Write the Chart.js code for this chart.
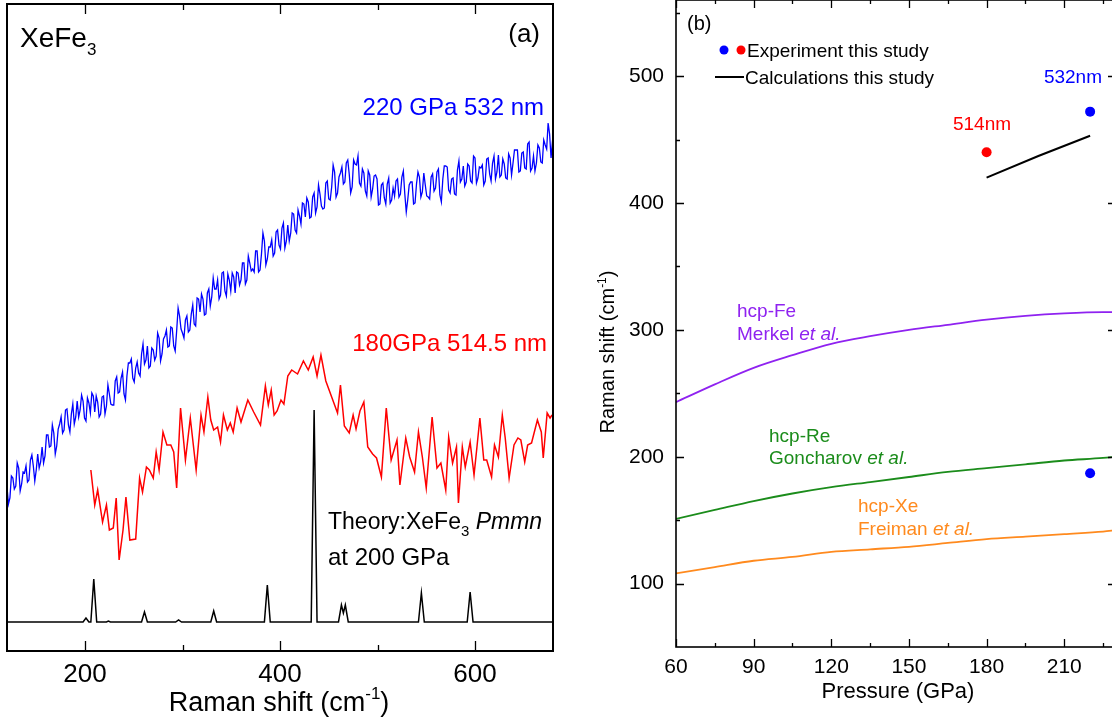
<!DOCTYPE html>
<html>
<head>
<meta charset="utf-8">
<script src="https://cdn.jsdelivr.net/npm/chart.js@4.4.1/dist/chart.umd.min.js"></script>
<style>
  html, body { margin: 0; padding: 0; background: #fff; overflow: hidden; width: 1112px; height: 721px; }
  #wrap-a { position: absolute; left: 0; top: 0; width: 560px; height: 721px; }
  #wrap-b { position: absolute; left: 560px; top: 0; width: 560px; height: 721px; }
</style>
</head>
<body>
<div id="wrap-a"><canvas id="spectra" width="560" height="721"></canvas></div>
<div id="wrap-b"><canvas id="shifts" width="560" height="721"></canvas></div>
<script>
// ---- panel (a): Raman spectra of XeFe3 (intensity in arbitrary counts) ----
const blueShift = [
  120, 121.5, 123, 124.5, 126, 127.5, 129, 130.5, 132, 133.5, 135, 136.5, 138, 139.5, 141, 142.5, 144, 145.5, 147, 148.5,
  150, 151.5, 153, 154.5, 156, 157.5, 159, 160.5, 162, 163.5, 165, 166.5, 168, 169.5, 171, 172.5, 174, 175.5, 177, 178.5,
  180, 181.5, 183, 184.5, 186, 187.5, 189, 190.5, 192, 193.5, 195, 196.5, 198, 199.5, 201, 202.5, 204, 205.5, 207, 208.5,
  210, 211.5, 213, 214.5, 216, 217.5, 219, 220.5, 222, 223.5, 225, 226.5, 228, 229.5, 231, 232.5, 234, 235.5, 237, 238.5,
  240, 241.5, 243, 244.5, 246, 247.5, 249, 250.5, 252, 253.5, 255, 256.5, 258, 259.5, 261, 262.5, 264, 265.5, 267, 268.5,
  270, 271.5, 273, 274.5, 276, 277.5, 279, 280.5, 282, 283.5, 285, 286.5, 288, 289.5, 291, 292.5, 294, 295.5, 297, 298.5,
  300, 301.5, 303, 304.5, 306, 307.5, 309, 310.5, 312, 313.5, 315, 316.5, 318, 319.5, 321, 322.5, 324, 325.5, 327, 328.5,
  330, 331.5, 333, 334.5, 336, 337.5, 339, 340.5, 342, 343.5, 345, 346.5, 348, 349.5, 351, 352.5, 354, 355.5, 357, 358.5,
  360, 361.5, 363, 364.5, 366, 367.5, 369, 370.5, 372, 373.5, 375, 376.5, 378, 379.5, 381, 382.5, 384, 385.5, 387, 388.5,
  390, 391.5, 393, 394.5, 396, 397.5, 399, 400.5, 402, 403.5, 405, 406.5, 408, 409.5, 411, 412.5, 414, 415.5, 417, 418.5,
  420, 421.5, 423, 424.5, 426, 427.5, 429, 430.5, 432, 433.5, 435, 436.5, 438, 439.5, 441, 442.5, 444, 445.5, 447, 448.5,
  450, 451.5, 453, 454.5, 456, 457.5, 459, 460.5, 462, 463.5, 465, 466.5, 468, 469.5, 471, 472.5, 474, 475.5, 477, 478.5,
  480, 481.5, 483, 484.5, 486, 487.5, 489, 490.5, 492, 493.5, 495, 496.5, 498, 499.5, 501, 502.5, 504, 505.5, 507, 508.5,
  510, 511.5, 513, 514.5, 516, 517.5, 519, 520.5, 522, 523.5, 525, 526.5, 528, 529.5, 531, 532.5, 534, 535.5, 537, 538.5,
  540, 541.5, 543, 544.5, 546, 547.5, 549, 550.5, 552, 553.5, 555, 556.5, 558, 559.5, 561, 562.5, 564, 565.5, 567, 568.5,
  570, 571.5, 573, 574.5, 576, 577.5, 579, 580.5, 582, 583.5, 585, 586.5, 588, 589.5, 591, 592.5, 594, 595.5, 597, 598.5,
  600, 601.5, 603, 604.5, 606, 607.5, 609, 610.5, 612, 613.5, 615, 616.5, 618, 619.5, 621, 622.5, 624, 625.5, 627, 628.5,
  630, 631.5, 633, 634.5, 636, 637.5, 639, 640.5, 642, 643.5, 645, 646.5, 648, 649.5, 651, 652.5, 654, 655.5, 657, 658.5,
  660, 661.5, 663, 664.5, 666, 667.5, 669, 670.5, 672, 673.5, 675, 676.5, 678, 679.5, 681
];
const blueCounts = [
  164, 147, 153, 175, 173, 162, 165, 188, 183, 160, 167, 179, 178, 185, 169, 171, 191, 196, 185, 170,
  181, 197, 183, 189, 204, 188, 195, 216, 216, 204, 205, 226, 218, 197, 205, 222, 227, 234, 218, 221,
  241, 242, 226, 219, 237, 247, 227, 234, 250, 234, 241, 256, 250, 233, 230, 253, 248, 238, 258, 255,
  239, 255, 249, 234, 237, 254, 255, 237, 245, 266, 257, 247, 246, 246, 270, 274, 258, 259, 273, 279,
  257, 251, 275, 288, 288, 292, 273, 269, 283, 289, 278, 275, 297, 307, 287, 291, 305, 283, 285, 303,
  301, 291, 295, 318, 313, 290, 297, 312, 315, 321, 304, 305, 324, 323, 305, 300, 320, 343, 335, 322,
  318, 313, 331, 335, 319, 321, 337, 346, 327, 325, 353, 352, 339, 357, 352, 336, 337, 358, 362, 345,
  354, 373, 362, 362, 371, 352, 356, 378, 379, 360, 355, 377, 371, 360, 378, 374, 358, 379, 378, 366,
  371, 388, 388, 367, 371, 395, 388, 380, 382, 379, 400, 400, 379, 381, 397, 418, 410, 386, 392, 404,
  404, 411, 395, 398, 419, 421, 406, 402, 423, 428, 403, 410, 426, 410, 418, 438, 437, 421, 418, 441,
  435, 427, 448, 447, 434, 453, 449, 433, 434, 454, 458, 438, 444, 466, 457, 445, 442, 443, 468, 470,
  452, 451, 464, 486, 479, 454, 458, 474, 478, 484, 467, 469, 488, 491, 477, 458, 464, 491, 487, 486,
  495, 468, 465, 482, 478, 460, 455, 480, 476, 454, 462, 475, 476, 472, 446, 447, 466, 468, 453, 447,
  467, 473, 448, 451, 463, 455, 470, 472, 454, 457, 474, 480, 457, 439, 451, 466, 469, 469, 447, 448,
  467, 479, 474, 454, 459, 478, 466, 455, 454, 452, 474, 477, 460, 463, 479, 482, 456, 449, 472, 485,
  485, 484, 461, 458, 472, 473, 457, 456, 481, 490, 469, 472, 485, 465, 469, 487, 485, 470, 468, 495,
  493, 468, 473, 484, 483, 486, 466, 470, 492, 493, 477, 470, 488, 495, 472, 479, 496, 474, 476, 492,
  487, 473, 472, 497, 493, 476, 488, 501, 501, 501, 479, 480, 498, 499, 483, 482, 507, 509, 480, 483,
  495, 480, 488, 506, 503, 489, 488, 511, 506, 502, 528, 517, 493, 510, 505
];

const redShift = [
  206, 210, 213, 218, 222, 225, 229, 232, 235, 239,
  242, 246, 252, 256, 259, 263, 266, 270, 273, 276,
  280, 284, 288, 291, 294, 298, 303, 308, 314, 319,
  322, 326, 329, 332, 336, 339, 342, 346, 349, 352,
  356, 360, 367, 373, 380, 385, 388, 391, 394, 397,
  401, 404, 408, 412, 418, 424, 429, 434, 438, 442,
  447, 453, 459, 462, 466, 471, 475, 478, 482, 486,
  490, 495, 499, 504, 509, 514, 520, 523, 529, 533,
  538, 542, 546, 550, 556, 561, 565, 570, 573, 577,
  581, 583, 587, 590, 595, 599, 602, 605, 609, 612,
  617, 620, 624, 628, 631, 635, 640, 644, 647, 651,
  654, 658, 664, 668, 670, 674, 677, 679
];
const redCounts = [
  181, 146, 161, 129, 146, 121, 123, 153, 91, 121,
  154, 111, 112, 173, 159, 184, 181, 173, 199, 181,
  219, 206, 206, 199, 163, 243, 191, 233, 181, 236,
  219, 254, 231, 221, 224, 209, 236, 221, 228, 219,
  243, 229, 251, 239, 226, 265, 246, 261, 236, 240,
  251, 247, 275, 281, 277, 290, 281, 294, 275, 296,
  270, 254, 238, 266, 225, 218, 236, 222, 240, 249,
  204, 197, 193, 174, 243, 191, 211, 166, 213, 194,
  179, 219, 194, 163, 234, 183, 188, 161, 214, 188,
  204, 148, 204, 184, 209, 176, 204, 233, 191, 191,
  174, 206, 194, 236, 213, 173, 206, 213, 211, 189,
  206, 208, 231, 219, 193, 238, 233, 236
];

const theoryShift = [120, 198, 201, 204, 206, 209, 212, 222, 224, 226, 258, 261, 264, 293, 296, 299,
  329, 332, 335, 384, 387, 390, 432, 435, 438, 460, 463, 465, 467, 470, 542, 545, 548, 592, 595, 598, 680];
const theoryCounts = [29, 29, 33, 29, 29, 72, 29, 29, 30, 29, 29, 39, 29, 29, 31, 29,
  29, 40, 29, 29, 66, 29, 29, 241, 29, 29, 46, 38, 46, 29, 29, 58, 29, 29, 59, 29, 29];

const shiftTicks = [200, 400, 600];
const shiftMinor = [300, 500];

// ---- panel (b): Raman shift vs pressure ----
const refPressure = [60, 75, 90, 105, 120, 135, 150, 165, 180, 195, 210, 225, 230];
const hcpFe = [243, 257, 270, 280, 289, 295, 300, 304, 308, 311, 313, 314, 314];
const hcpRe = [151, 158, 165, 171, 176, 180, 184, 188, 191, 194, 197, 199, 200];
const hcpXe = [108, 113, 118, 121, 125, 127, 129, 132, 135, 137, 139, 141, 142];
const calcPressure = [180, 200, 220];
const calcShift = [420, 437, 453];
const exp532Pressure = [220, 220];
const exp532Shift = [472, 187];
const exp514Pressure = [180];
const exp514Shift = [440];

const pressureTicks = [60, 90, 120, 150, 180, 210];
const pressureMinor = [75, 105, 135, 165, 195, 225];
const ramanTicks = [100, 200, 300, 400, 500];
const ramanMinor = [150, 250, 350, 450, 550];

const FAMILY = '"Liberation Sans", Arial, sans-serif';
const FE = '#8f22f0', RE = '#1b8c1b', XE = '#ff8a1e';

Chart.defaults.font.family = FAMILY;
Chart.defaults.color = '#000';

const pts = (xs, ys) => xs.map((x, i) => ({ x, y: ys[i] }));
const noPad = s => { s.paddingTop = 0; s.paddingBottom = 0; s.paddingLeft = 0; s.paddingRight = 0; };

// text with italic / sub / sup pieces
function rich(ctx, parts, x, y, size, color, align) {
  const fontOf = k => (k === 'i' ? 'italic ' : '') +
    Math.round(k === 'sub' || k === 'sup' ? size * 0.62 : size) + 'px ' + FAMILY;
  let total = 0;
  const widths = parts.map(([t, k]) => {
    ctx.font = fontOf(k);
    const w = ctx.measureText(t).width;
    total += w;
    return w;
  });
  let cx = align === 'center' ? x - total / 2 : align === 'right' ? x - total : x;
  const base = y + size * 0.36;
  ctx.fillStyle = color;
  ctx.textAlign = 'left';
  ctx.textBaseline = 'alphabetic';
  parts.forEach(([t, k], i) => {
    ctx.font = fontOf(k);
    const dy = k === 'sub' ? size * 0.3 : k === 'sup' ? -size * 0.42 : 0;
    ctx.fillText(t, cx, base + dy);
    cx += widths[i];
  });
}

// box plus inward ticks, placed through the chart's own scales
function frame(chart, o) {
  const { ctx, chartArea: a, scales: { x, y } } = chart;
  ctx.save();
  ctx.strokeStyle = '#000';
  ctx.lineWidth = o.box;
  ctx.strokeRect(a.left, a.top, a.right - a.left, a.bottom - a.top);
  ctx.lineWidth = 1.3;
  ctx.beginPath();
  const xt = (vals, len) => vals.forEach(v => {
    const px = Math.round(x.getPixelForValue(v)) + 0.5;
    ctx.moveTo(px, a.bottom); ctx.lineTo(px, a.bottom - len);
    ctx.moveTo(px, a.top); ctx.lineTo(px, a.top + len);
  });
  const yt = (vals, len) => vals.forEach(v => {
    const py = Math.round(y.getPixelForValue(v)) + 0.5;
    ctx.moveTo(a.left, py); ctx.lineTo(a.left + len, py);
    ctx.moveTo(a.right, py); ctx.lineTo(a.right - len, py);
  });
  xt(o.xMajor, o.major);
  xt(o.xMinor, o.minor);
  if (o.yMajor) { yt(o.yMajor, o.major); yt(o.yMinor, o.minor); }
  ctx.stroke();
  ctx.restore();
}

new Chart(document.getElementById('spectra'), {
  type: 'line',
  data: {
    datasets: [
      { data: pts(blueShift, blueCounts), borderColor: '#0000ff', borderWidth: 1.3, pointRadius: 0, tension: 0 },
      { data: pts(redShift, redCounts), borderColor: '#ff0000', borderWidth: 1.5, pointRadius: 0, tension: 0 },
      { data: pts(theoryShift, theoryCounts), borderColor: '#000', borderWidth: 1.5, pointRadius: 0, tension: 0 }
    ]
  },
  options: {
    responsive: false,
    animation: false,
    layout: { autoPadding: false, padding: { left: 7, right: 7, top: 4, bottom: 0 } },
    plugins: { legend: { display: false }, tooltip: { enabled: false } },
    scales: {
      x: {
        type: 'linear', min: 120, max: 680,
        grid: { display: false, drawTicks: false },
        border: { display: false },
        afterBuildTicks: s => { s.ticks = shiftTicks.map(v => ({ value: v })); },
        afterFit: s => { s.height = 70; noPad(s); },
        ticks: { font: { size: 26 }, padding: 8, maxRotation: 0 }
      },
      y: { type: 'linear', min: 0, max: 647, display: false }
    }
  },
  plugins: [{
    id: 'decorA',
    afterDraw(chart) {
      frame(chart, { box: 2, major: 10, minor: 6, xMajor: shiftTicks, xMinor: shiftMinor });
      const ctx = chart.ctx;
      rich(ctx, [['XeFe', ''], ['3', 'sub']], 20, 37, 28, '#000', 'left');
      rich(ctx, [['(a)', '']], 540, 33, 26, '#000', 'right');
      rich(ctx, [['220 GPa 532 nm', '']], 544, 107, 23.5, '#0000ff', 'right');
      rich(ctx, [['180GPa 514.5 nm', '']], 547, 343, 23.5, '#ff0000', 'right');
      rich(ctx, [['Theory:XeFe', ''], ['3', 'sub'], [' ', ''], ['Pmmn', 'i']], 328, 521, 23.4, '#000', 'left');
      rich(ctx, [['at 200 GPa', '']], 328, 557, 23.5, '#000', 'left');
      rich(ctx, [['Raman shift (cm', ''], ['-1', 'sup'], [')', '']], 279, 701, 27, '#000', 'center');
    }
  }]
});

new Chart(document.getElementById('shifts'), {
  type: 'line',
  data: {
    datasets: [
      { data: pts(refPressure, hcpFe), borderColor: FE, borderWidth: 1.8, pointRadius: 0, cubicInterpolationMode: 'monotone' },
      { data: pts(refPressure, hcpRe), borderColor: RE, borderWidth: 1.8, pointRadius: 0, cubicInterpolationMode: 'monotone' },
      { data: pts(refPressure, hcpXe), borderColor: XE, borderWidth: 1.8, pointRadius: 0, cubicInterpolationMode: 'monotone' },
      { data: pts(calcPressure, calcShift), borderColor: '#000', borderWidth: 2, pointRadius: 0 },
      { data: pts(exp532Pressure, exp532Shift), showLine: false, pointRadius: 5, borderWidth: 0,
        backgroundColor: '#0000ff', borderColor: '#0000ff' },
      { data: pts(exp514Pressure, exp514Shift), showLine: false, pointRadius: 5, borderWidth: 0,
        backgroundColor: '#ff0000', borderColor: '#ff0000' }
    ]
  },
  options: {
    responsive: false,
    animation: false,
    layout: { autoPadding: false, padding: { left: 0, right: 4, top: 0, bottom: 0 } },
    plugins: { legend: { display: false }, tooltip: { enabled: false } },
    scales: {
      x: {
        type: 'linear', min: 60, max: 230,
        grid: { display: false, drawTicks: false },
        border: { display: false },
        afterBuildTicks: s => { s.ticks = pressureTicks.map(v => ({ value: v })); },
        afterFit: s => { s.height = 74; noPad(s); },
        ticks: { font: { size: 21 }, padding: 8, maxRotation: 0 }
      },
      y: {
        type: 'linear', min: 50, max: 560,
        grid: { display: false, drawTicks: false },
        border: { display: false },
        afterBuildTicks: s => { s.ticks = ramanTicks.map(v => ({ value: v })); },
        afterFit: s => { s.width = 116; noPad(s); },
        ticks: { font: { size: 21 }, padding: 12 }
      }
    }
  },
  plugins: [{
    id: 'decorB',
    afterDraw(chart) {
      frame(chart, { box: 1.6, major: 8, minor: 4, xMajor: pressureTicks, xMinor: pressureMinor,
        yMajor: ramanTicks, yMinor: ramanMinor });
      const ctx = chart.ctx;
      rich(ctx, [['(b)', '']], 127, 23, 20, '#000', 'left');
      // legend
      ctx.save();
      ctx.fillStyle = '#0000ff';
      ctx.beginPath(); ctx.arc(164, 50, 4.5, 0, Math.PI * 2); ctx.fill();
      ctx.fillStyle = '#ff0000';
      ctx.beginPath(); ctx.arc(181, 50, 4.5, 0, Math.PI * 2); ctx.fill();
      ctx.strokeStyle = '#000'; ctx.lineWidth = 2;
      ctx.beginPath(); ctx.moveTo(155, 77); ctx.lineTo(184, 77); ctx.stroke();
      ctx.restore();
      rich(ctx, [['Experiment this study', '']], 187, 50, 19, '#000', 'left');
      rich(ctx, [['Calculations this study', '']], 185, 77, 19, '#000', 'left');
      rich(ctx, [['514nm', '']], 422, 123, 19, '#ff0000', 'center');
      rich(ctx, [['532nm', '']], 542, 76, 19, '#0000ff', 'right');
      rich(ctx, [['hcp-Fe', '']], 177, 310, 19, FE, 'left');
      rich(ctx, [['Merkel ', ''], ['et al.', 'i']], 177, 333, 19, FE, 'left');
      rich(ctx, [['hcp-Re', '']], 209, 435, 19, RE, 'left');
      rich(ctx, [['Goncharov ', ''], ['et al.', 'i']], 209, 457, 19, RE, 'left');
      rich(ctx, [['hcp-Xe', '']], 298, 505, 19, XE, 'left');
      rich(ctx, [['Freiman ', ''], ['et al.', 'i']], 298, 528, 19, XE, 'left');
      rich(ctx, [['Pressure (GPa)', '']], 338, 690, 22, '#000', 'center');
      ctx.save();
      ctx.translate(47, 352);
      ctx.rotate(-Math.PI / 2);
      rich(ctx, [['Raman shift (cm', ''], ['-1', 'sup'], [')', '']], 0, 0, 20, '#000', 'center');
      ctx.restore();
    }
  }]
});
</script>
</body>
</html>
